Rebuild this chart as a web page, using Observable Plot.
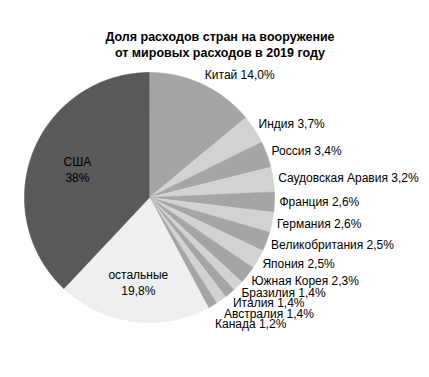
<!DOCTYPE html>
<html>
<head>
<meta charset="utf-8">
<script src="https://cdn.jsdelivr.net/npm/d3@7"></script>
<script src="https://cdn.jsdelivr.net/npm/@observablehq/plot@0.6"></script>
<style>
  html, body { margin: 0; padding: 0; background: #fff; }
  body { width: 429px; height: 377px; overflow: hidden; font-family: "Liberation Sans", Arial, sans-serif; }
  #title { width: 429px; box-sizing: border-box; padding-top: 29px; padding-left: 11px; text-align: center;
           font-weight: bold; font-size: 12.5px; line-height: 16px; color: #000; height: 61px; }
  #chart svg { display: block; }
</style>
</head>
<body>
<div id="title">Доля расходов стран на вооружение<br>от мировых расходов в 2019 году</div>
<div id="chart"></div>
<script>
// Data, clockwise from 12 o'clock
const countries = ["Китай", "Индия", "Россия", "Саудовская Аравия", "Франция", "Германия",
  "Великобритания", "Япония", "Южная Корея", "Бразилия", "Италия", "Австралия", "Канада",
  "остальные", "США"];
const shares = [14.0, 3.7, 3.4, 3.2, 2.6, 2.6, 2.5, 2.5, 2.3, 1.4, 1.4, 1.4, 1.2, 19.8, 38];
const shareLabels = ["14,0%", "3,7%", "3,4%", "3,2%", "2,6%", "2,6%", "2,5%", "2,5%", "2,3%",
  "1,4%", "1,4%", "1,4%", "1,2%", "19,8%", "38%"];
const insideLabelled = ["остальные", "США"];

// Styles (separate from data)
const palette = ["#a5a5a5", "#d2d2d2", "#a5a5a5", "#d2d2d2", "#a5a5a5", "#d2d2d2", "#a5a5a5",
  "#d2d2d2", "#a5a5a5", "#d2d2d2", "#a5a5a5", "#d2d2d2", "#a5a5a5", "#efefef", "#595959"];

const table = countries.map((name, i) => ({name, share: shares[i], label: shareLabels[i]}));
const arcs = d3.pie().sort(null).value(d => d.share).startAngle(0).endAngle(2 * Math.PI)(table);

// slice outlines in unit-circle coordinates
const slicePoints = [];
for (const a of arcs) {
  slicePoints.push({name: a.data.name, x: 0, y: 0});
  const n = Math.max(2, Math.ceil((a.endAngle - a.startAngle) / 0.01));
  for (let k = 0; k <= n; k++) {
    const t = a.startAngle + (a.endAngle - a.startAngle) * k / n;
    slicePoints.push({name: a.data.name, x: Math.sin(t), y: Math.cos(t)});
  }
}

// outside labels with simple downward collision avoidance
const unitPx = 125;
const gap = 10.5 / unitPx;
const outside = [];
let prevY = Infinity;
for (const a of arcs) {
  if (insideLabelled.includes(a.data.name)) continue;
  const m = (a.startAngle + a.endAngle) / 2;
  let y = 1.08 * Math.cos(m);
  if (y > prevY - gap) y = prevY - gap;
  prevY = y;
  outside.push({x: 1.04 * Math.sin(m), y, text: `${a.data.name} ${a.data.label}`});
}
const inside = arcs.filter(a => insideLabelled.includes(a.data.name)).map(a => {
  const m = (a.startAngle + a.endAngle) / 2;
  const r = a.data.name === "США" ? 0.62 : 0.68;
  return {x: r * Math.sin(m), y: r * Math.cos(m), text: `${a.data.name}\n${a.data.label}`};
});

const chart = Plot.plot({
  width: 429,
  height: 316,
  marginLeft: 24,
  marginRight: 155,
  marginTop: 11,
  marginBottom: 55,
  x: {domain: [-1, 1], axis: null},
  y: {domain: [-1, 1], axis: null},
  color: {domain: countries, range: palette},
  style: {fontFamily: "'Liberation Sans', Arial, sans-serif", background: "#fff"},
  marks: [
    Plot.line(slicePoints, {x: "x", y: "y", z: "name", fill: "name", stroke: "name", strokeWidth: 0.6, curve: "linear"}),
    Plot.text(outside, {x: "x", y: "y", text: "text", textAnchor: "start", fontSize: 12, fill: "#000"}),
    Plot.text(inside, {x: "x", y: "y", text: "text", textAnchor: "middle", fontSize: 12, lineHeight: 1.33, fill: "#000"})
  ]
});
document.getElementById("chart").appendChild(chart);
</script>
</body>
</html>
